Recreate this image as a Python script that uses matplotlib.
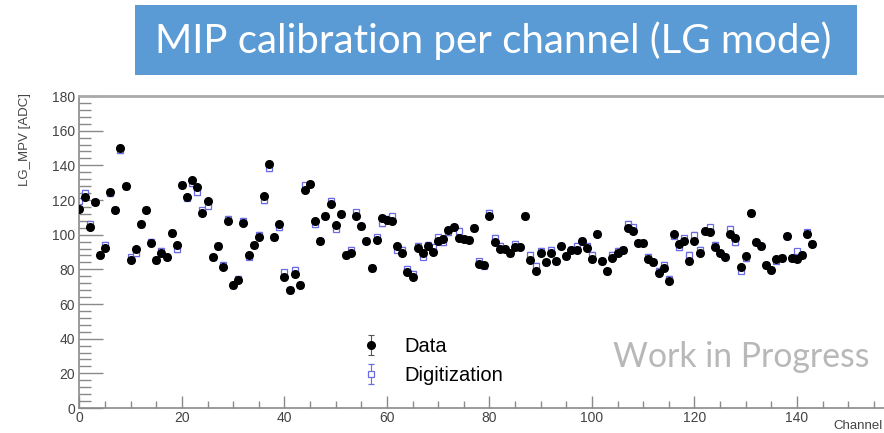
import numpy as np
import matplotlib
matplotlib.use('Agg')
import matplotlib.pyplot as plt
from matplotlib.patches import Rectangle
from matplotlib.ticker import MultipleLocator

# MPV per channel
data_mpv = [114.9, 122, 104.3, 118.8, 88.5, 92.4, 124.9, 114.5, 150.2, 128,
            85.4, 91.6, 105.9, 114.3, 95, 85.4, 89.5, 87.4, 101, 94.3,
            128.8, 122, 131.3, 127.4, 112.4, 119.2, 87, 93.5, 81.6, 107.8,
            71, 73.9, 106.8, 88.5, 94.3, 98.9, 122.2, 140.9, 98.5, 105.9,
            75.8, 68.1, 77.3, 71.2, 125.5, 129, 107.8, 96.6, 111, 117.8,
            105.3, 112, 88.3, 89.5, 111, 104.9, 96.6, 80.8, 97, 109.7,
            108.6, 107.8, 93.7, 89.3, 78.3, 75.4, 92.4, 89.3, 93.3, 89.9,
            96.6, 97.6, 102.8, 104.3, 98, 97.6, 97.2, 103.9, 83.1, 82.5,
            110.9, 95.6, 91.8, 91.8, 89.3, 93.1, 93.1, 111, 85.6, 79.3,
            89.3, 84.1, 89.3, 84.7, 93.7, 87.9, 91.2, 91.2, 96.6, 92.4,
            86, 100.5, 84.7, 78.9, 86.6, 89.3, 91.2, 103.9, 102, 95.3,
            95.3, 86, 84.1, 77.9, 80.8, 73.1, 100.1, 94.7, 96.6, 84.7,
            96.6, 89.3, 102, 101.8, 93.1, 89.5, 87.4, 100.5, 98.2, 81.2,
            87.9, 112.4, 95.6, 93.3, 82.5, 79.7, 86, 86.6, 99.1, 86.4,
            86, 88.3, 100.1, 94.7]

digi_mpv = [119.3, 124, 106, 119, 88.5, 94, 124, 114.5, 148.6, 128,
            87, 89.3, 105.9, 114.3, 96, 85.4, 90.8, 87.4, 101, 91.6,
            128.8, 121.3, 129.7, 124.5, 114, 116.8, 87, 93.5, 82.5, 109,
            71, 74.5, 108, 87.4, 94.3, 100, 120, 138.4, 98.5, 104.3,
            78.3, 68.1, 79.7, 71.2, 128.4, 129, 105.9, 96.6, 111, 119.7,
            103.4, 112, 88.3, 91.4, 113, 104.9, 96.6, 80.8, 98.5, 106.6,
            109, 110.5, 91.4, 91.2, 80.2, 77.3, 93.7, 87.4, 94, 92.8,
            98.5, 95.6, 101.4, 104.3, 102.4, 97.6, 97.2, 103.9, 84.7, 82.2,
            112.6, 98.2, 93.7, 91.8, 89.3, 94.7, 93.1, 111, 88.5, 82.2,
            90.8, 84.1, 91.4, 84.7, 93.7, 87.9, 91.2, 93.7, 96.6, 93.7,
            88.5, 100.5, 84.7, 78.9, 88.5, 90.8, 91.2, 106.2, 104.3, 95.3,
            95.3, 87.4, 84.1, 79.3, 82.5, 74.5, 99.5, 92.8, 98, 88.5,
            99.9, 91.2, 102, 104.3, 94, 89.5, 87.4, 103.4, 95.6, 79.3,
            86.4, 112.4, 95.6, 93.3, 82.5, 79.7, 85, 86.6, 99.1, 86.4,
            90.4, 88.3, 101.4, 94.7]

channels = np.arange(len(data_mpv))
err = 1.5

fig = plt.figure(figsize=(8.84, 4.33), dpi=100)
ax = fig.add_axes([79.4 / 884, 25 / 433, 1 - 79.4 / 884, 312 / 433])

axis_col = '#8a8a8a'
font = 'Liberation Sans'

# digitization first, data on top
ax.errorbar(channels, digi_mpv, yerr=err, fmt='s', ms=5, mfc='white', mec='#6b6be6',
            mew=0.9, ecolor='#6b6be6', elinewidth=0.8, capsize=2, capthick=0.8,
            label='Digitization', zorder=2)
ax.errorbar(channels, data_mpv, yerr=err, fmt='o', ms=5.5, color='black',
            ecolor='#555555', elinewidth=0.8, capsize=2, capthick=0.8,
            label='Data', zorder=3)

ax.set_xlim(0, 157)
ax.set_ylim(0, 180)
ax.xaxis.set_major_locator(MultipleLocator(20))
ax.xaxis.set_minor_locator(MultipleLocator(5))
ax.yaxis.set_major_locator(MultipleLocator(20))
ax.yaxis.set_minor_locator(MultipleLocator(4))

ax.spines['right'].set_visible(False)
for side in ['left', 'bottom']:
    ax.spines[side].set_color(axis_col)
    ax.spines[side].set_linewidth(1.2)
ax.spines['top'].set_color('#aaaaaa')
ax.spines['top'].set_linewidth(2)

ax.tick_params(axis='y', which='major', direction='in', length=17, width=1, color=axis_col,
               labelsize=10, labelcolor='#444444', pad=3)
ax.tick_params(axis='y', which='minor', direction='in', length=8.5, width=1, color=axis_col)
ax.tick_params(axis='x', which='major', direction='in', length=9, width=1, color=axis_col,
               labelsize=10, labelcolor='#444444', pad=2)
ax.tick_params(axis='x', which='minor', direction='in', length=5, width=1, color=axis_col)
for lab in ax.get_xticklabels() + ax.get_yticklabels():
    lab.set_family(font)

fig.text(25 / 884, 1 - 93 / 433, 'LG_MPV [ADC]', rotation=90, ha='center', va='top',
         fontsize=9.5, color='#444444', family=font)
fig.text(883 / 884, 0.002, 'Channel', ha='right', va='bottom',
         fontsize=9.5, color='#444444', family=font)

# legend
handles, labels = ax.get_legend_handles_labels()
leg = ax.legend(handles[::-1], labels[::-1], loc='upper left',
                bbox_to_anchor=(343 / 884, 1 - 319 / 433), bbox_transform=fig.transFigure,
                frameon=False, handlelength=1.0, handletextpad=1.15, labelspacing=0.5,
                prop={'family': font, 'size': 14.5})

fig.text(613 / 884, 1 - 367 / 433, 'Work in Progress', ha='left', va='baseline',
         fontsize=24.3, color='#b8b8b8', family='Lato')

# title banner
fig.patches.append(Rectangle((135 / 884, 1 - 75 / 433), (857 - 135) / 884, 70 / 433,
                             transform=fig.transFigure, facecolor='#5b9bd5',
                             edgecolor='none', zorder=0))
fig.text(155 / 884, 1 - 41 / 433, 'MIP calibration per channel (LG mode)', ha='left',
         va='center', fontsize=29, color='white', family='Lato')

fig.savefig('out.png', dpi=100)
